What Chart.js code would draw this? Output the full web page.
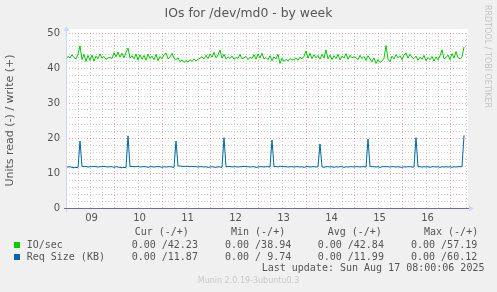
<!DOCTYPE html>
<html>
<head>
<meta charset="utf-8">
<title>IOs for /dev/md0 - by week</title>
<script src="https://cdn.jsdelivr.net/npm/chart.js@4.4.1/dist/chart.umd.min.js"></script>
<style>
    body { margin: 0; background: #f0f0f0; }
    #wrap { position: relative; width: 497px; height: 292px; overflow: hidden; font-family: "DejaVu Sans", sans-serif; color: #555; }
    #wrap canvas { position: absolute; left: 0; top: 0; }
    .t { position: absolute; white-space: pre; line-height: 1; }
    .mono { font-family: "DejaVu Sans Mono", monospace; font-size: 10px; color: #555; }
    .box { position: absolute; width: 6px; height: 6px; }
    #title { left: 0; width: 497px; top: 7px; text-align: center; font-size: 12.4px; color: #555; }
    #rrd { left: 483px; top: 5px; font-size: 8px; color: #c4c4c4; writing-mode: vertical-rl; }
    #munin { left: 0; width: 497px; top: 277px; text-align: center; font-size: 8px; color: #c8c8c8; }
</style>
</head>
<body>
<div id="wrap">
    <canvas id="ioChart" width="497" height="292"></canvas>
    <div class="t" id="title">IOs for /dev/md0 - by week</div>
    <div class="t" id="rrd">RRDTOOL / TOBI OETIKER</div>

    <div class="t mono" style="left:134.7px; top:227px">Cur (-/+)</div>
    <div class="t mono" style="left:231px; top:227px">Min (-/+)</div>
    <div class="t mono" style="left:327.7px; top:227px">Avg (-/+)</div>
    <div class="t mono" style="left:424px; top:227px">Max (-/+)</div>

    <div class="box" style="left:14px; top:242px; background:#00cc00"></div>
    <div class="t mono" style="left:26.7px; top:240px">IO/sec</div>
    <div class="t mono" style="left:131.7px; top:240px">0.00 /42.23</div>
    <div class="t mono" style="left:225px; top:240px">0.00 /38.94</div>
    <div class="t mono" style="left:317.7px; top:240px">0.00 /42.84</div>
    <div class="t mono" style="left:411px; top:240px">0.00 /57.19</div>

    <div class="box" style="left:14px; top:254px; background:#0066b3"></div>
    <div class="t mono" style="left:26.7px; top:251.5px">Req Size (KB)</div>
    <div class="t mono" style="left:131.7px; top:251.5px">0.00 /11.87</div>
    <div class="t mono" style="left:225px; top:251.5px">0.00 / 9.74</div>
    <div class="t mono" style="left:317.7px; top:251.5px">0.00 /11.99</div>
    <div class="t mono" style="left:411px; top:251.5px">0.00 /60.12</div>

    <div class="t mono" style="left:261.7px; top:263.3px">Last update: Sun Aug 17 08:00:06 2025</div>
    <div class="t" id="munin">Munin 2.0.19-3ubuntu0.3</div>
</div>

<script>
// day labels, one per day, centred at noon
const dayLabels = ['09', '10', '11', '12', '13', '14', '15', '16'];

// IO/sec (write), one sample per hour from 09 00:00
const ioPerSec = [
    42.5, 43.3, 42.9, 43.8, 43.0, 42.6, 44.0, 46.3, 42.4, 43.9,
    41.9, 43.6, 42.2, 43.7, 42.0, 43.4, 42.6, 44.0, 42.8, 43.3,
    42.5, 42.9, 43.0, 42.7, 44.4, 43.2, 44.6, 43.1, 44.2, 42.9,
    44.5, 45.7, 42.8, 43.5, 42.6, 44.0, 42.3, 43.8, 42.5, 43.6,
    42.2, 44.0, 42.7, 43.4, 42.4, 43.9, 42.1, 43.3, 42.6, 43.8,
    44.3, 42.6, 43.1, 44.2, 42.8, 42.4, 42.9, 41.8, 42.3, 41.6,
    42.1, 41.7, 42.4, 41.9, 42.6, 42.0, 42.5, 42.8, 43.2, 42.6,
    43.6, 42.7, 44.0, 43.1, 44.5, 42.9, 43.7, 45.1, 42.8, 43.9,
    42.6, 43.2, 42.7, 43.4, 42.5, 43.0, 42.8, 43.9, 42.6, 42.9,
    43.3, 42.4, 43.1, 42.7, 43.8, 42.5, 44.0, 42.9, 44.2, 42.6,
    43.0, 42.4, 43.5, 42.1, 43.2, 42.6, 43.9, 41.3, 42.8, 41.9,
    42.5, 42.0, 42.7, 42.3, 42.4, 42.9, 42.2, 43.1, 42.6, 43.3,
    44.9, 42.8, 44.2, 42.7, 43.8, 42.9, 43.6, 42.5, 43.9, 42.8,
    45.2, 42.6, 43.7, 42.4, 43.5, 42.7, 43.9, 42.3, 43.4, 42.8,
    44.1, 42.5, 43.6, 42.9, 43.2, 43.0, 42.4, 43.6, 42.7, 43.3,
    42.2, 43.5, 42.6, 41.8, 42.9, 41.3, 42.4, 41.6, 42.0, 42.8,
    46.4, 42.5, 41.8, 43.4, 42.6, 43.8, 42.9, 43.5, 42.4, 43.7,
    44.3, 42.8, 43.9, 43.0, 42.7, 43.4, 42.2, 43.1, 42.5, 43.6,
    42.1, 43.0, 42.4, 43.3, 42.0, 43.2, 42.3, 43.5, 45.2, 42.6,
    43.0, 43.7, 42.4, 44.1, 42.8, 44.7, 43.0, 42.6, 43.2, 46.0
];

// Req Size (KB), same hourly samples
const reqSizeKB = [
    11.8, 11.7, 11.8, 11.6, 11.5, 11.6, 11.5, 19.1, 11.9, 11.8,
    11.9, 11.7, 11.8, 11.8, 11.9, 11.8, 11.7, 11.8, 11.8, 11.9,
    11.8, 11.7, 11.8, 11.8, 11.6, 11.8, 11.7, 11.6, 11.5, 11.6,
    11.5, 20.6, 11.8, 11.9, 11.8, 11.8, 11.9, 11.7, 11.8, 11.8,
    11.8, 11.6, 11.8, 11.8, 11.7, 11.8, 11.8, 11.8, 11.6, 11.8,
    11.7, 11.8, 11.8, 11.7, 11.6, 19.1, 12.0, 12.0, 11.9, 11.9,
    11.9, 11.9, 11.8, 11.9, 11.8, 11.8, 11.7, 11.8, 11.8, 11.7,
    11.8, 11.6, 11.7, 11.8, 11.7, 11.6, 11.8, 11.7, 11.6, 20.1,
    11.8, 11.8, 11.9, 11.7, 11.8, 11.8, 11.7, 11.8, 11.8, 11.9,
    11.8, 11.8, 11.7, 11.8, 11.8, 11.6, 11.7, 11.8, 11.8, 11.7,
    11.8, 11.8, 11.7, 19.4, 11.8, 11.9, 11.7, 12.0, 11.8, 11.8,
    11.8, 11.7, 11.8, 11.8, 11.7, 11.8, 11.8, 11.7, 11.8, 11.6,
    11.8, 11.8, 11.7, 11.8, 11.8, 11.7, 11.8, 18.3, 11.8, 11.6,
    11.8, 11.8, 11.7, 11.8, 11.6, 11.8, 11.7, 11.8, 11.8, 11.6,
    11.8, 11.7, 11.8, 11.8, 11.7, 11.8, 11.8, 11.7, 11.8, 11.8,
    11.7, 19.7, 11.9, 11.8, 11.8, 11.7, 11.8, 11.6, 11.8, 11.8,
    11.8, 11.8, 11.7, 11.8, 11.8, 11.7, 11.8, 11.7, 11.6, 11.8,
    11.7, 11.8, 11.8, 11.7, 11.7, 20.1, 11.8, 11.8, 11.7, 11.8,
    11.7, 11.8, 11.6, 11.8, 11.8, 11.7, 11.8, 11.6, 11.8, 11.7,
    11.8, 11.7, 11.8, 11.6, 11.8, 11.7, 11.8, 11.8, 11.8, 20.7
];

const gridRed = 'rgba(255, 0, 0, 0.35)';
const gridGrey = 'rgba(120, 120, 120, 0.35)';
const axisBlue = '#cfd6f8';
const axisDark = '#707080';

// background, white canvas, axis extensions and arrows like rrdtool
const rrdFrame = {
    id: 'rrdFrame',
    beforeDraw(chart) {
        const { ctx, chartArea: a } = chart;
        ctx.save();
        ctx.fillStyle = '#f0f0f0';
        ctx.fillRect(0, 0, chart.width, chart.height);
        ctx.fillStyle = '#ffffff';
        ctx.fillRect(a.left, a.top - 4, a.right - a.left + 2, a.bottom - a.top + 4);
        ctx.restore();
    },
    afterDraw(chart) {
        const { ctx, chartArea: a } = chart;
        const x = Math.round(a.left) + 0.5;
        const y = Math.round(a.bottom) + 0.5;
        ctx.save();
        ctx.lineWidth = 1;
        ctx.strokeStyle = axisBlue;
        ctx.fillStyle = axisBlue;
        ctx.beginPath();
        ctx.moveTo(x, a.bottom + 4);
        ctx.lineTo(x, a.top - 3);
        ctx.stroke();
        ctx.beginPath();
        ctx.moveTo(x, a.top - 7);
        ctx.lineTo(x - 3, a.top - 2);
        ctx.lineTo(x + 3, a.top - 2);
        ctx.closePath();
        ctx.fill();
        ctx.beginPath();
        ctx.moveTo(a.right + 8, y);
        ctx.lineTo(a.right + 3, y - 3);
        ctx.lineTo(a.right + 3, y + 3);
        ctx.closePath();
        ctx.fill();
        ctx.strokeStyle = axisDark;
        ctx.beginPath();
        ctx.moveTo(a.left - 2, y);
        ctx.lineTo(a.right + 3, y);
        ctx.stroke();
        ctx.restore();
    }
};

Chart.defaults.font.family = '"DejaVu Sans", sans-serif';
Chart.defaults.color = '#555';

const ctx = document.getElementById('ioChart').getContext('2d');
new Chart(ctx, {
    type: 'line',
    data: {
        datasets: [
            {
                label: 'IO/sec',
                data: ioPerSec.map((v, i) => ({ x: i, y: v })),
                borderColor: '#00cc00'
            },
            {
                label: 'Req Size (KB)',
                data: reqSizeKB.map((v, i) => ({ x: i, y: v })),
                borderColor: '#0066b3'
            }
        ].map(ds => ({ ...ds, borderWidth: 1, pointRadius: 0, tension: 0, fill: false }))
    },
    options: {
        responsive: false,
        animation: false,
        layout: { padding: { left: 0, top: 33, right: 31, bottom: 64 } },
        plugins: {
            legend: { display: false },
            tooltip: { enabled: false }
        },
        scales: {
            x: {
                type: 'linear',
                min: 0,
                max: 200,
                afterFit: scale => { scale.height = 20; },
                grid: {
                    drawTicks: false,
                    color: c => (c.tick.value % 24 === 0 ? gridRed : gridGrey)
                },
                border: { display: false, dash: [1, 2] },
                ticks: {
                    stepSize: 6,
                    autoSkip: false,
                    maxRotation: 0,
                    padding: 4,
                    labelOffset: 1.5,
                    font: { size: 10 },
                    callback: v => (v % 24 === 12 ? dayLabels[(v - 12) / 24] : '')
                }
            },
            y: {
                min: 0,
                max: 50,
                afterFit: scale => { scale.width = 66; },
                grid: {
                    drawTicks: false,
                    color: c => (c.tick.value % 10 === 0 ? gridRed : gridGrey)
                },
                border: { display: false, dash: [1, 2] },
                title: {
                    display: true,
                    text: 'Units read (-) / write (+)',
                    font: { size: 11 },
                    padding: { top: 4, bottom: 0 }
                },
                ticks: {
                    stepSize: 2,
                    autoSkip: false,
                    padding: 6,
                    font: { size: 10 },
                    callback: v => (v % 10 === 0 ? v : '')
                }
            }
        }
    },
    plugins: [rrdFrame]
});
</script>
</body>
</html>
